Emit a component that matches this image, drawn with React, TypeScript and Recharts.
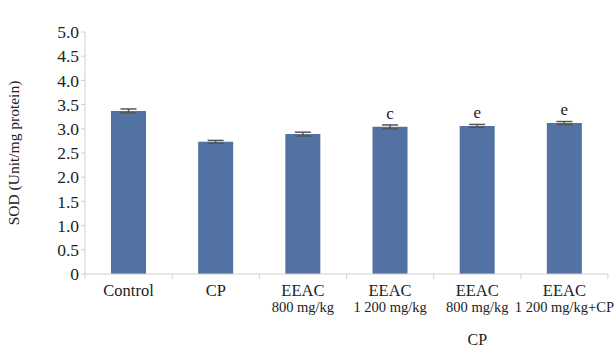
import { BarChart, Bar, XAxis, YAxis, ErrorBar, LabelList } from 'recharts'

const groups = ['Control', 'CP', 'EEAC', 'EEAC', 'EEAC', 'EEAC']
const doses = ['', '', '800 mg/kg', '1 200 mg/kg', '800 mg/kg', '1 200 mg/kg+CP']
const thirdLine = ['', '', '', '', 'CP', '']
const sod = [3.37, 2.73, 2.89, 3.04, 3.06, 3.12]
const sodErr = [0.04, 0.03, 0.04, 0.04, 0.03, 0.03]
const marks = ['', '', '', 'c', 'e', 'e']
const yTicks = [0, 0.5, 1, 1.5, 2, 2.5, 3, 3.5, 4, 4.5, 5]

const data = groups.map((g, i) => ({ name: String(i), value: sod[i], err: sodErr[i], mark: marks[i] }))

const FONT = '"Liberation Serif", "DejaVu Serif", serif'
const BAND = 87

function XTick({ x, y, payload }: any) {
  const i = Number(payload.value)
  return (
    <g>
      <line x1={x - BAND / 2} y1={y - 8} x2={x - BAND / 2} y2={y - 3} stroke="#d0d0d0" />
      {i === groups.length - 1 && (
        <line x1={x + BAND / 2} y1={y - 8} x2={x + BAND / 2} y2={y - 3} stroke="#d0d0d0" />
      )}
      <text x={x} y={y + 14} textAnchor="middle" fontSize={16.5} fill="#222" fontFamily={FONT}>{groups[i]}</text>
      <text x={x} y={y + 30} textAnchor="middle" fontSize={14.5} fill="#222" fontFamily={FONT}>{doses[i]}</text>
      <text x={x} y={y + 63} textAnchor="middle" fontSize={16} fill="#222" fontFamily={FONT}>{thirdLine[i]}</text>
    </g>
  )
}

function Mark({ x, y, width, value }: any) {
  if (!value) return null
  return (
    <text x={x + width / 2} y={y - 8} textAnchor="middle" fontSize={17} fill="#222" fontFamily={FONT}>{value}</text>
  )
}

export default function App() {
  return (
    <div style={{ position: 'absolute', left: 0, top: 0, width: 614, height: 350, background: '#fff' }}>
      <BarChart width={614} height={350} data={data} margin={{ top: 32, right: 6, bottom: 0, left: 0 }}>
        <XAxis dataKey="name" height={76} tickLine={false} axisLine={{ stroke: '#cfcfcf' }} tick={<XTick />} interval={0} />
        <YAxis domain={[0, 5]} ticks={yTicks} interval={0} width={85} axisLine={{ stroke: '#cfcfcf' }}
          tickLine={{ stroke: '#cfcfcf' }} tickSize={4}
          tickFormatter={(v: number) => (v === 0 ? '0' : v.toFixed(1))}
          tick={{ fontSize: 17.5, fill: '#222', fontFamily: FONT }}
          label={{ value: 'SOD (Unit/mg protein)', angle: -90, position: 'insideLeft', offset: 13,
            style: { textAnchor: 'middle', fontSize: 15.5, fill: '#222', fontFamily: FONT } }} />
        <Bar dataKey="value" fill="#5272a3" barSize={35} isAnimationActive={false}>
          <ErrorBar dataKey="err" width={8} stroke="#555" strokeWidth={1.5} />
          <LabelList dataKey="mark" content={<Mark />} />
        </Bar>
      </BarChart>
    </div>
  )
}
